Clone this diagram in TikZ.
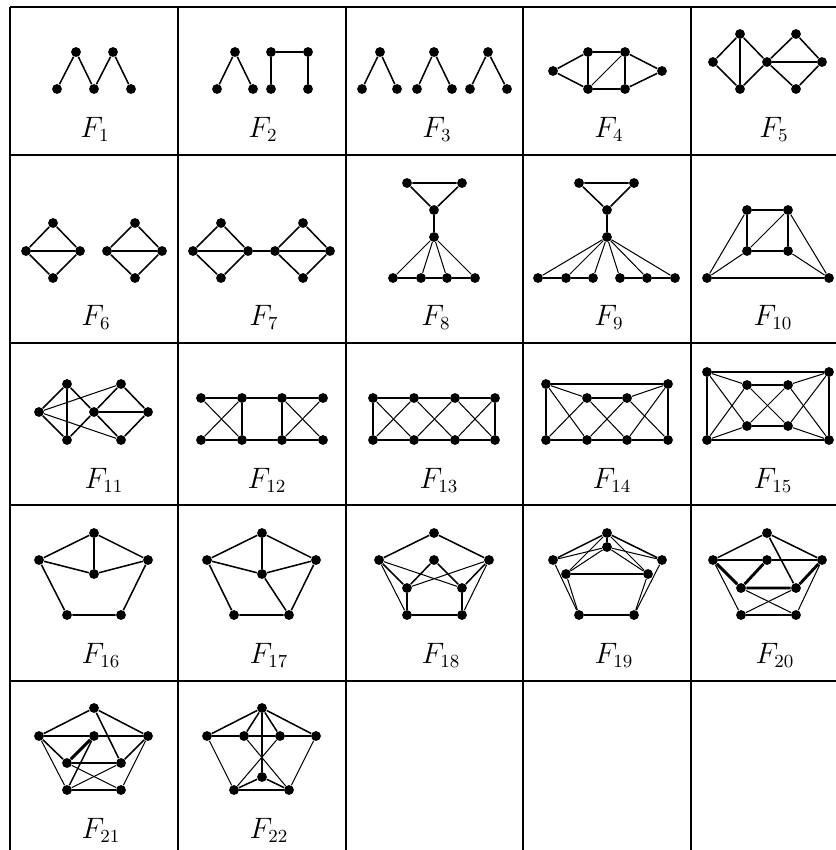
\documentclass[tikz,border=0pt]{standalone}
\usepackage{tikz}

\begin{document}
\begin{tikzpicture}[x=0.488pt,y=-0.488pt,
  vtx/.style={circle,fill=black,inner sep=0pt,minimum size=4.8pt},
  edg/.style={line width=0.75pt},
  lite/.style={line width=0.5pt},
  bld/.style={line width=1.4pt},
  tabline/.style={line width=1.2pt},
  lbl/.style={anchor=base,inner sep=0pt,font=\fontsize{13.5}{16}\selectfont}]
\useasboundingbox (0,0) rectangle (836,850);
% table rules
\draw[tabline] (10,7) -- (836,7); \draw[tabline] (10,155) -- (836,155);
\draw[tabline] (10,343) -- (836,343); \draw[tabline] (10,505) -- (836,505);
\draw[tabline] (10,681) -- (836,681);
\draw[tabline] (10,7) -- (10,850); \draw[tabline] (178,7) -- (178,850);
\draw[tabline] (346,7) -- (346,850); \draw[tabline] (523,7) -- (523,850);
\draw[tabline] (691,7) -- (691,850);

% F1
\node[vtx] (f1a) at (57,89) {}; \node[vtx] (f1b) at (76,52) {}; \node[vtx] (f1c) at (94,89) {};
\node[vtx] (f1d) at (113,52) {}; \node[vtx] (f1e) at (131,89) {};
\draw[edg] (f1a)--(f1b)--(f1c)--(f1d)--(f1e);
\node[lbl] (l1) at (95,137) {$F_1$};
% F2
\node[vtx] (f2a) at (217,89) {}; \node[vtx] (f2b) at (235,52) {}; \node[vtx] (f2c) at (253,89) {};
\node[vtx] (f2d) at (271,89) {}; \node[vtx] (f2e) at (271,52) {}; \node[vtx] (f2f) at (308,52) {};
\node[vtx] (f2g) at (308,89) {};
\draw[edg] (f2a)--(f2b)--(f2c); \draw[bld] (f2d)--(f2e); \draw[edg] (f2e)--(f2f); \draw[bld] (f2f)--(f2g);
\node[lbl] (l2) at (263,137) {$F_2$};
% F3
\node[vtx] (f3a) at (362,89) {}; \node[vtx] (f3b) at (380,52) {}; \node[vtx] (f3c) at (397,89) {};
\node[vtx] (f3d) at (417,89) {}; \node[vtx] (f3e) at (434,52) {}; \node[vtx] (f3f) at (452,89) {};
\node[vtx] (f3g) at (470,89) {}; \node[vtx] (f3h) at (488,52) {}; \node[vtx] (f3i) at (507,89) {};
\draw[edg] (f3a)--(f3b)--(f3c); \draw[edg] (f3d)--(f3e)--(f3f); \draw[edg] (f3g)--(f3h)--(f3i);
\node[lbl] (l3) at (437,137) {$F_3$};
% F4
\node[vtx] (f4a) at (553,71) {}; \node[vtx] (f4b) at (588,52) {}; \node[vtx] (f4c) at (625,52) {};
\node[vtx] (f4d) at (588,89) {}; \node[vtx] (f4e) at (625,89) {}; \node[vtx] (f4f) at (662,71) {};
\draw[edg] (f4a)--(f4b); \draw[edg] (f4a)--(f4d); \draw[edg] (f4c)--(f4f); \draw[edg] (f4e)--(f4f);
\draw[bld] (f4b)--(f4c); \draw[bld] (f4b)--(f4d); \draw[bld] (f4d)--(f4e); \draw[bld] (f4c)--(f4e);
\draw[lite] (f4d)--(f4c);
\node[lbl] (l4) at (609,137) {$F_4$};
% F5
\node[vtx] (f5a) at (713,62) {}; \node[vtx] (f5b) at (740,34) {}; \node[vtx] (f5c) at (740,89) {};
\node[vtx] (f5d) at (767,62) {}; \node[vtx] (f5e) at (796,34) {}; \node[vtx] (f5f) at (796,89) {};
\node[vtx] (f5g) at (822,62) {};
\draw[edg] (f5a)--(f5b)--(f5d)--(f5c)--(f5a); \draw[edg] (f5d)--(f5e)--(f5g)--(f5f)--(f5d);
\draw[edg] (f5b)--(f5c); \draw[edg] (f5d)--(f5g);
\node[lbl] (l5) at (774,137) {$F_5$};

% F6
\node[vtx] (f6a) at (26,251) {}; \node[vtx] (f6b) at (53,223) {}; \node[vtx] (f6c) at (80,251) {};
\node[vtx] (f6d) at (53,278) {}; \node[vtx] (f6e) at (107,251) {}; \node[vtx] (f6f) at (135,223) {};
\node[vtx] (f6g) at (162,251) {}; \node[vtx] (f6h) at (135,278) {};
\draw[edg] (f6a)--(f6b)--(f6c)--(f6d)--(f6a); \draw[edg] (f6e)--(f6f)--(f6g)--(f6h)--(f6e);
\draw[bld] (f6a)--(f6c); \draw[bld] (f6e)--(f6g);
\node[lbl] (l6) at (96,325) {$F_6$};
% F7
\node[vtx] (f7a) at (193,251) {}; \node[vtx] (f7b) at (221,223) {}; \node[vtx] (f7c) at (248,251) {};
\node[vtx] (f7d) at (221,278) {}; \node[vtx] (f7e) at (275,251) {}; \node[vtx] (f7f) at (303,223) {};
\node[vtx] (f7g) at (330,251) {}; \node[vtx] (f7h) at (303,278) {};
\draw[edg] (f7a)--(f7b)--(f7c)--(f7d)--(f7a); \draw[edg] (f7e)--(f7f)--(f7g)--(f7h)--(f7e);
\draw[bld] (f7a)--(f7c)--(f7e)--(f7g);
\node[lbl] (l7) at (264,325) {$F_7$};
% F8
\node[vtx] (f8a) at (407,183) {}; \node[vtx] (f8b) at (462,183) {}; \node[vtx] (f8c) at (434,210) {};
\node[vtx] (f8d) at (434,237) {}; \node[vtx] (f8e) at (393,278) {}; \node[vtx] (f8f) at (421,278) {};
\node[vtx] (f8g) at (447,278) {}; \node[vtx] (f8h) at (475,278) {};
\draw[edg] (f8a)--(f8b)--(f8c)--(f8a); \draw[bld] (f8c)--(f8d);
\draw[lite] (f8d)--(f8e); \draw[lite] (f8d)--(f8f); \draw[lite] (f8d)--(f8g); \draw[lite] (f8d)--(f8h);
\draw[edg] (f8e)--(f8f)--(f8g)--(f8h);
\node[lbl] (l8) at (436,325) {$F_8$};
% F9
\node[vtx] (f9a) at (579,183) {}; \node[vtx] (f9b) at (634,183) {}; \node[vtx] (f9c) at (607,210) {};
\node[vtx] (f9d) at (607,237) {}; \node[vtx] (f9e) at (538,278) {}; \node[vtx] (f9f) at (566,278) {};
\node[vtx] (f9g) at (593,278) {}; \node[vtx] (f9h) at (620,278) {}; \node[vtx] (f9i) at (647,278) {};
\node[vtx] (f9j) at (675,278) {};
\draw[edg] (f9a)--(f9b)--(f9c)--(f9a); \draw[edg] (f9c)--(f9d);
\draw[lite] (f9d)--(f9e); \draw[lite] (f9d)--(f9f); \draw[lite] (f9d)--(f9g);
\draw[lite] (f9d)--(f9h); \draw[lite] (f9d)--(f9i); \draw[lite] (f9d)--(f9j);
\draw[edg] (f9e)--(f9f)--(f9g); \draw[edg] (f9h)--(f9i)--(f9j);
\node[lbl] (l9) at (609,325) {$F_9$};
% F10
\node[vtx] (f10a) at (747,210) {}; \node[vtx] (f10b) at (788,210) {}; \node[vtx] (f10c) at (747,251) {};
\node[vtx] (f10d) at (788,251) {}; \node[vtx] (f10e) at (707,278) {}; \node[vtx] (f10f) at (829,278) {};
\draw[bld] (f10a)--(f10b)--(f10d)--(f10c)--(f10a); \draw[lite] (f10c)--(f10b);
\draw[lite] (f10e)--(f10a); \draw[lite] (f10e)--(f10c); \draw[lite] (f10f)--(f10b); \draw[lite] (f10f)--(f10d);
\draw[edg] (f10e)--(f10f);
\node[lbl] (l10) at (773,325) {$F_{10}$};

% F11
\node[vtx] (f11a) at (39,412) {}; \node[vtx] (f11b) at (67,384) {}; \node[vtx] (f11c) at (67,440) {};
\node[vtx] (f11d) at (94,412) {}; \node[vtx] (f11e) at (121,384) {}; \node[vtx] (f11f) at (121,440) {};
\node[vtx] (f11g) at (148,412) {};
\draw[edg] (f11a)--(f11b)--(f11d)--(f11c)--(f11a); \draw[edg] (f11d)--(f11e)--(f11g)--(f11f)--(f11d);
\draw[bld] (f11b)--(f11c); \draw[bld] (f11d)--(f11g);
\draw[lite] (f11a)--(f11e); \draw[lite] (f11a)--(f11f);
\node[lbl] (l11) at (104,488) {$F_{11}$};
% F12
\node[vtx] (f12a) at (201,398) {}; \node[vtx] (f12b) at (242,398) {}; \node[vtx] (f12c) at (282,398) {};
\node[vtx] (f12d) at (323,398) {}; \node[vtx] (f12e) at (201,440) {}; \node[vtx] (f12f) at (242,440) {};
\node[vtx] (f12g) at (282,440) {}; \node[vtx] (f12h) at (323,440) {};
\draw[edg] (f12a)--(f12b)--(f12c)--(f12d); \draw[bld] (f12e)--(f12f)--(f12g)--(f12h);
\draw[bld] (f12b)--(f12f); \draw[bld] (f12c)--(f12g);
\draw[lite] (f12a)--(f12f); \draw[lite] (f12e)--(f12b); \draw[lite] (f12c)--(f12h); \draw[lite] (f12g)--(f12d);
\node[lbl] (l12) at (267,488) {$F_{12}$};
% F13
\node[vtx] (f13a) at (373,398) {}; \node[vtx] (f13b) at (414,398) {}; \node[vtx] (f13c) at (455,398) {};
\node[vtx] (f13d) at (495,398) {}; \node[vtx] (f13e) at (373,440) {}; \node[vtx] (f13f) at (414,440) {};
\node[vtx] (f13g) at (455,440) {}; \node[vtx] (f13h) at (495,440) {};
\draw[edg] (f13a)--(f13b)--(f13c)--(f13d); \draw[bld] (f13e)--(f13f)--(f13g)--(f13h);
\draw[bld] (f13a)--(f13e); \draw[edg] (f13d)--(f13h);
\draw[lite] (f13a)--(f13f); \draw[lite] (f13e)--(f13b); \draw[lite] (f13b)--(f13g);
\draw[lite] (f13f)--(f13c); \draw[lite] (f13c)--(f13h); \draw[lite] (f13g)--(f13d);
\node[lbl] (l13) at (439,488) {$F_{13}$};
% F14
\node[vtx] (f14a) at (546,384) {}; \node[vtx] (f14b) at (668,384) {}; \node[vtx] (f14c) at (546,440) {};
\node[vtx] (f14d) at (587,440) {}; \node[vtx] (f14e) at (627,440) {}; \node[vtx] (f14f) at (668,440) {};
\node[vtx] (f14g) at (587,398) {}; \node[vtx] (f14h) at (627,398) {};
\draw[edg] (f14a)--(f14b); \draw[bld] (f14a)--(f14c)--(f14d)--(f14e)--(f14f)--(f14b);
\draw[lite] (f14a)--(f14g); \draw[edg] (f14g)--(f14h); \draw[lite] (f14h)--(f14b);
\draw[lite] (f14a)--(f14d); \draw[lite] (f14c)--(f14g); \draw[lite] (f14g)--(f14e);
\draw[lite] (f14d)--(f14h); \draw[lite] (f14h)--(f14f); \draw[lite] (f14e)--(f14b);
\node[lbl] (l14) at (612,488) {$F_{14}$};
% F15
\node[vtx] (f15a) at (707,372) {}; \node[vtx] (f15b) at (829,372) {}; \node[vtx] (f15c) at (707,440) {};
\node[vtx] (f15d) at (829,440) {}; \node[vtx] (f15e) at (747,385) {}; \node[vtx] (f15f) at (788,385) {};
\node[vtx] (f15g) at (747,426) {}; \node[vtx] (f15h) at (788,426) {};
\draw[bld] (f15a)--(f15b)--(f15d)--(f15c)--(f15a);
\draw[edg] (f15e)--(f15f); \draw[edg] (f15g)--(f15h);
\draw[lite] (f15a)--(f15e); \draw[lite] (f15f)--(f15b); \draw[lite] (f15c)--(f15g); \draw[lite] (f15h)--(f15d);
\draw[lite] (f15a)--(f15g); \draw[lite] (f15c)--(f15e); \draw[lite] (f15e)--(f15h);
\draw[lite] (f15g)--(f15f); \draw[lite] (f15f)--(f15d); \draw[lite] (f15h)--(f15b);
\node[lbl] (l15) at (773,488) {$F_{15}$};

% F16
\node[vtx] (f16a) at (94,533) {}; \node[vtx] (f16b) at (39,560) {}; \node[vtx] (f16c) at (148,560) {};
\node[vtx] (f16d) at (94,574) {}; \node[vtx] (f16e) at (67,615) {}; \node[vtx] (f16f) at (121,615) {};
\draw[edg] (f16b)--(f16a)--(f16c); \draw[edg] (f16b)--(f16d)--(f16c);
\draw[edg] (f16b)--(f16e)--(f16f)--(f16c); \draw[bld] (f16a)--(f16d);
\node[lbl] (l16) at (101,663) {$F_{16}$};
% F17
\node[vtx] (f17a) at (262,533) {}; \node[vtx] (f17b) at (207,560) {}; \node[vtx] (f17c) at (316,560) {};
\node[vtx] (f17d) at (262,574) {}; \node[vtx] (f17e) at (234,615) {}; \node[vtx] (f17f) at (289,615) {};
\draw[edg] (f17b)--(f17a)--(f17c); \draw[edg] (f17b)--(f17d)--(f17c);
\draw[edg] (f17b)--(f17e)--(f17f)--(f17c); \draw[edg] (f17d)--(f17f); \draw[bld] (f17a)--(f17d);
\node[lbl] (l17) at (269,663) {$F_{17}$};
% F18
\node[vtx] (f18a) at (434,533) {}; \node[vtx] (f18b) at (379,560) {}; \node[vtx] (f18c) at (489,560) {};
\node[vtx] (f18d) at (434,560) {}; \node[vtx] (f18e) at (407,588) {}; \node[vtx] (f18f) at (462,588) {};
\node[vtx] (f18g) at (407,615) {}; \node[vtx] (f18h) at (462,615) {};
\draw[edg] (f18b)--(f18a)--(f18c); \draw[edg] (f18e)--(f18d)--(f18f);
\draw[edg] (f18b)--(f18e); \draw[edg] (f18c)--(f18f);
\draw[lite] (f18b)--(f18f); \draw[lite] (f18c)--(f18e); \draw[lite] (f18b)--(f18g); \draw[lite] (f18c)--(f18h);
\draw[bld] (f18e)--(f18g)--(f18h)--(f18f);
\node[lbl] (l18) at (441,663) {$F_{18}$};
% F19
\node[vtx] (f19a) at (607,533) {}; \node[vtx] (f19b) at (607,547) {}; \node[vtx] (f19c) at (553,560) {};
\node[vtx] (f19d) at (662,560) {}; \node[vtx] (f19e) at (566,574) {}; \node[vtx] (f19f) at (648,574) {};
\node[vtx] (f19g) at (579,615) {}; \node[vtx] (f19h) at (634,615) {};
\draw[edg] (f19c)--(f19a)--(f19d); \draw[lite] (f19c)--(f19b)--(f19d);
\draw[lite] (f19e)--(f19a)--(f19f); \draw[lite] (f19e)--(f19b)--(f19f); \draw[edg] (f19a)--(f19b);
\draw[lite] (f19c)--(f19g); \draw[lite] (f19d)--(f19h); \draw[lite] (f19e)--(f19g); \draw[lite] (f19f)--(f19h);
\draw[bld] (f19e)--(f19f); \draw[bld] (f19g)--(f19h);
\node[lbl] (l19) at (614,663) {$F_{19}$};
% F20
\node[vtx] (f20a) at (767,533) {}; \node[vtx] (f20b) at (713,560) {}; \node[vtx] (f20c) at (822,560) {};
\node[vtx] (f20d) at (767,560) {}; \node[vtx] (f20e) at (741,588) {}; \node[vtx] (f20f) at (796,588) {};
\node[vtx] (f20g) at (741,615) {}; \node[vtx] (f20h) at (796,615) {};
\draw[edg] (f20b)--(f20a)--(f20c); \draw[edg] (f20a)--(f20f);
\draw[bld] (f20b)--(f20d)--(f20c); \draw[bld] (f20d)--(f20e); \draw[bld] (f20b)--(f20e)--(f20f)--(f20c);
\draw[lite] (f20e)--(f20h); \draw[lite] (f20f)--(f20g); \draw[lite] (f20b)--(f20g); \draw[lite] (f20c)--(f20h);
\draw[bld] (f20g)--(f20h);
\node[lbl] (l20) at (775,663) {$F_{20}$};

% F21
\node[vtx] (f21a) at (94,708) {}; \node[vtx] (f21b) at (39,736) {}; \node[vtx] (f21c) at (148,736) {};
\node[vtx] (f21d) at (94,736) {}; \node[vtx] (f21e) at (67,763) {}; \node[vtx] (f21f) at (121,763) {};
\node[vtx] (f21g) at (67,790) {}; \node[vtx] (f21h) at (121,790) {};
\draw[edg] (f21b)--(f21a)--(f21c); \draw[edg] (f21a)--(f21f);
\draw[bld] (f21b)--(f21d)--(f21c); \draw[bld] (f21d)--(f21e); \draw[edg] (f21d)--(f21g);
\draw[edg] (f21b)--(f21e); \draw[bld] (f21e)--(f21f); \draw[edg] (f21c)--(f21f);
\draw[lite] (f21e)--(f21h); \draw[lite] (f21f)--(f21g); \draw[lite] (f21b)--(f21g); \draw[lite] (f21c)--(f21h);
\draw[bld] (f21g)--(f21h);
\node[lbl] (l21) at (101,838) {$F_{21}$};
% F22
\node[vtx] (f22a) at (262,708) {}; \node[vtx] (f22b) at (207,736) {}; \node[vtx] (f22c) at (316,736) {};
\node[vtx] (f22d) at (244,736) {}; \node[vtx] (f22e) at (280,736) {}; \node[vtx] (f22f) at (262,777) {};
\node[vtx] (f22g) at (234,790) {}; \node[vtx] (f22h) at (289,790) {};
\draw[edg] (f22b)--(f22a)--(f22c); \draw[edg] (f22d)--(f22a)--(f22e);
\draw[bld] (f22b)--(f22d)--(f22e)--(f22c); \draw[bld] (f22a)--(f22f);
\draw[lite] (f22d)--(f22h); \draw[lite] (f22e)--(f22g);
\draw[edg] (f22g)--(f22f)--(f22h); \draw[bld] (f22g)--(f22h);
\draw[lite] (f22b)--(f22g); \draw[lite] (f22c)--(f22h);
\node[lbl] (l22) at (269,838) {$F_{22}$};
\end{tikzpicture}
\end{document}
